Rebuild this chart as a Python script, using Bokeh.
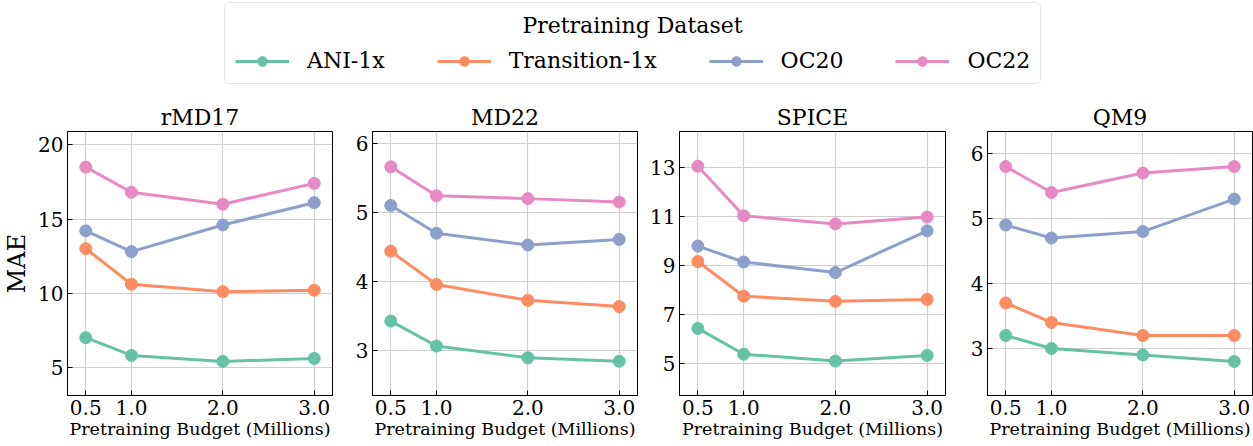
from bokeh.plotting import figure
from bokeh.layouts import column, row
from bokeh.models import (Range1d, FixedTicker, PrintfTickFormatter, Legend,
                          LegendItem, Label)
from bokeh.embed import file_html
from bokeh.resources import INLINE

FONT = "DejaVu Serif"

# ---- data ----
budget = [0.5, 1.0, 2.0, 3.0]
datasets = ["ANI-1x", "Transition-1x", "OC20", "OC22"]
colors = ["#66c2a5", "#fc8d62", "#8da0cb", "#e78ac3"]

rmd17_ani1x = [7.0, 5.8, 5.4, 5.6]
rmd17_t1x = [13.0, 10.6, 10.1, 10.2]
rmd17_oc20 = [14.2, 12.8, 14.6, 16.1]
rmd17_oc22 = [18.5, 16.8, 16.0, 17.4]

md22_ani1x = [3.43, 3.07, 2.90, 2.85]
md22_t1x = [4.44, 3.96, 3.73, 3.64]
md22_oc20 = [5.10, 4.70, 4.53, 4.61]
md22_oc22 = [5.66, 5.24, 5.20, 5.15]

spice_ani1x = [6.44, 5.39, 5.11, 5.34]
spice_t1x = [9.16, 7.75, 7.54, 7.62]
spice_oc20 = [9.79, 9.14, 8.71, 10.41]
spice_oc22 = [13.04, 11.02, 10.69, 10.97]

qm9_ani1x = [3.20, 3.00, 2.90, 2.80]
qm9_t1x = [3.70, 3.40, 3.20, 3.20]
qm9_oc20 = [4.90, 4.70, 4.80, 5.30]
qm9_oc22 = [5.80, 5.40, 5.70, 5.80]

panel_titles = ["rMD17", "MD22", "SPICE", "QM9"]
panel_series = [
    [rmd17_ani1x, rmd17_t1x, rmd17_oc20, rmd17_oc22],
    [md22_ani1x, md22_t1x, md22_oc20, md22_oc22],
    [spice_ani1x, spice_t1x, spice_oc20, spice_oc22],
    [qm9_ani1x, qm9_t1x, qm9_oc20, qm9_oc22],
]
panel_yticks = [[5, 10, 15, 20], [3, 4, 5, 6], [5, 7, 9, 11, 13], [3, 4, 5, 6]]
panel_yrange = [(3.1, 20.9), (2.355, 6.17), (3.71, 14.45), (2.276, 6.34)]

# ---- layout sizes ----
LEG_H = 90
PANEL_H = 356
widths = [336, 305, 308, 304]
left_b = [65, 36, 38, 38]
right_b = [4, 4, 4, 1]

panels = []
for i in range(4):
    p = figure(width=widths[i], height=PANEL_H,
               x_range=Range1d(0.3, 3.2), y_range=Range1d(*panel_yrange[i]),
               toolbar_location=None, output_backend="svg",
               min_border_left=left_b[i], min_border_right=right_b[i],
               min_border_top=41, min_border_bottom=51,
               title=panel_titles[i])
    p.title.align = "center"
    p.title.text_font = FONT
    p.title.text_font_size = "22px"
    p.title.text_font_style = "normal"
    p.title.text_color = "black"
    p.title.standoff = 3

    p.outline_line_color = "black"
    p.outline_line_width = 1
    p.background_fill_color = "white"
    p.border_fill_color = "white"

    p.xaxis.ticker = FixedTicker(ticks=budget)
    p.xaxis.formatter = PrintfTickFormatter(format="%.1f")
    p.yaxis.ticker = FixedTicker(ticks=panel_yticks[i])
    p.xaxis.axis_label = "Pretraining Budget (Millions)"
    p.xaxis.axis_label_text_font_size = "17.5px"
    p.xaxis.axis_label_standoff = 1
    if i == 0:
        p.yaxis.axis_label = "MAE"
        p.yaxis.axis_label_text_font_size = "24px"
        p.yaxis.axis_label_standoff = 4
    for ax in (p.xaxis[0], p.yaxis[0]):
        ax.axis_label_text_font = FONT
        ax.axis_label_text_font_style = "normal"
        ax.axis_label_text_color = "black"
        ax.major_label_text_font = FONT
        ax.major_label_text_font_size = "20px"
        ax.major_label_text_color = "black"
        ax.major_label_standoff = 4
        ax.major_tick_in = 5
        ax.major_tick_out = 0
        ax.minor_tick_in = 0
        ax.minor_tick_out = 0
        ax.major_tick_line_color = "black"
        ax.axis_line_color = "black"
    p.grid.grid_line_color = "#cfcfcf"
    p.grid.grid_line_width = 1.2

    for vals, c in zip(panel_series[i], colors):
        p.line(budget, vals, line_color=c, line_width=3)
        p.scatter(budget, vals, size=12, fill_color=c, line_color=c)
    panels.append(p)

# ---- legend figure (ranges in pixel-like units, y downward) ----
TOTAL_W = sum(widths)
leg = figure(width=TOTAL_W, height=LEG_H,
             x_range=Range1d(0, TOTAL_W), y_range=Range1d(LEG_H, 0),
             toolbar_location=None, output_backend="svg", min_border=0,
             x_axis_type=None, y_axis_type=None, outline_line_color=None)
leg.grid.visible = False
items = []
for vals, name, c in zip(panel_series[0], datasets, colors):
    r1 = leg.line(budget, vals, line_color=c, line_width=3, visible=False)
    r2 = leg.scatter(budget, vals, size=11, fill_color=c, line_color=c, visible=False)
    items.append(LegendItem(label=name, renderers=[r1, r2]))
legend = Legend(items=items, orientation="horizontal", location=(224, 6),
                title="Pretraining Dataset", title_text_alpha=0,
                title_text_font=FONT, title_text_font_size="22px",
                title_standoff=10,
                label_text_font=FONT, label_text_font_size="22px",
                label_text_color="black",
                glyph_width=54, glyph_height=24, label_standoff=18,
                spacing=52, padding=10, margin=0,
                border_line_color="#cccccc", border_line_width=1,
                background_fill_alpha=0)
if "border_radius" in Legend.properties():
    legend.border_radius = 5
leg.add_layout(legend, "center")
title_label = Label(x=632, y=25, text="Pretraining Dataset",
                    text_align="center", text_baseline="middle",
                    text_font=FONT, text_font_size="22px", text_color="black",
                    level="overlay")
leg.add_layout(title_label)

layout = column(leg, row(*panels))
open("out.html", "w").write(file_html(layout, INLINE))
